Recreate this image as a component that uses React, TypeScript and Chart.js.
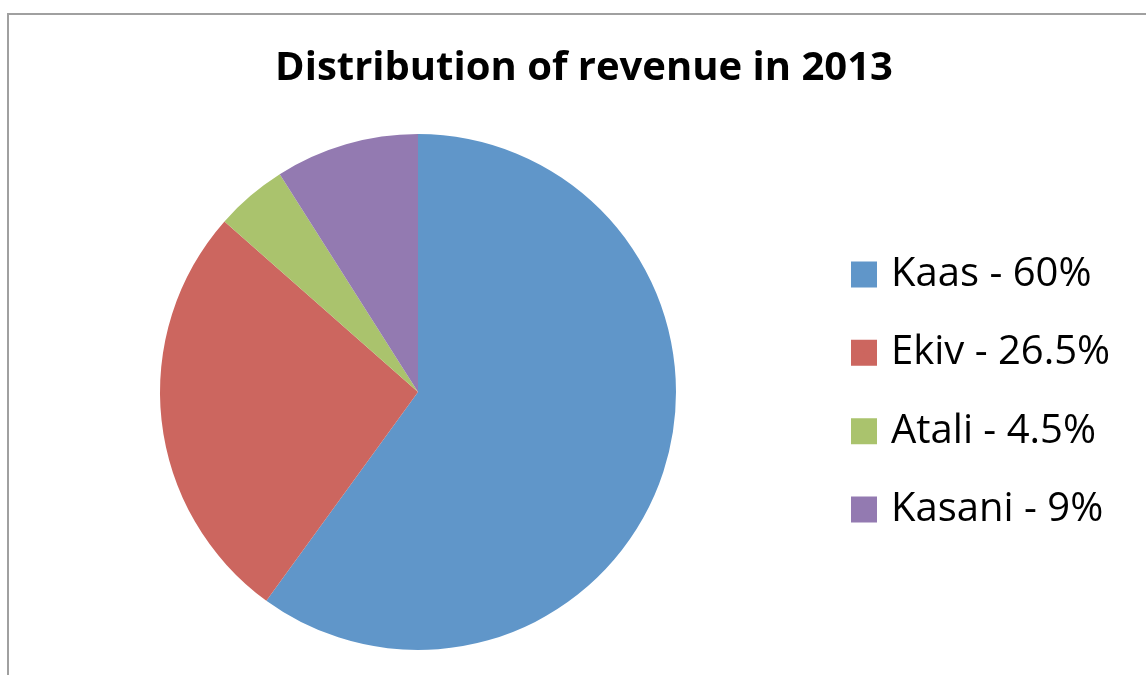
import React, { useEffect, useRef } from "react";
import { Chart, registerables, layouts } from "chart.js";

Chart.register(...registerables);

const TITLE = "Distribution of revenue in 2013";
const categories = ["Kaas", "Ekiv", "Atali", "Kasani"];
const shares = [60, 26.5, 4.5, 9];
const colors = ["#6096C9", "#CC665F", "#AAC36D", "#937AB1"];

const legendLabels = categories.map((c, i) => `${c} - ${shares[i]}%`);

// total width reserved on the right of the pie (legend + empty margin)
const RIGHT_BLOCK = 332;

const spacerPlugin = {
  id: "rightSpacer",
  beforeInit(chart: any) {
    const box: any = {
      position: "right",
      weight: 5000,
      fullSize: false,
      options: { display: true },
      left: 0,
      top: 0,
      right: 0,
      bottom: 0,
      width: 0,
      height: 0,
      isHorizontal: () => false,
      update(maxWidth: number, maxHeight: number) {
        const lw = chart.legend ? chart.legend.width : 0;
        this.width = Math.max(0, RIGHT_BLOCK - lw);
        this.height = maxHeight;
      },
      draw() {},
    };
    layouts.addBox(chart, box);
  },
};

export default function App() {
  const ref = useRef<HTMLCanvasElement | null>(null);

  useEffect(() => {
    if (!ref.current) return;
    const chart = new Chart(ref.current, {
      type: "pie",
      data: {
        labels: legendLabels,
        datasets: [
          {
            data: shares,
            backgroundColor: colors,
            borderWidth: 0,
          },
        ],
      },
      plugins: [spacerPlugin],
      options: {
        responsive: false,
        animation: false,
        devicePixelRatio: 1,
        layout: { padding: { left: 17.3, right: 9.3, top: 0, bottom: 25 } },
        plugins: {
          tooltip: { enabled: false },
          title: {
            display: true,
            text: TITLE,
            color: "#000",
            font: { family: "'Open Sans'", size: 40, weight: "bold", lineHeight: 1.2 },
            padding: { top: 44.8, bottom: 41.2 },
          },
          legend: {
            display: true,
            position: "right",
            align: "center",
            fullSize: false,
            maxWidth: 420,
            labels: {
              color: "#000",
              font: { family: "'Open Sans'", size: 40 },
              boxWidth: 14,
              boxHeight: 14,
              padding: 38.3,
              generateLabels: () =>
                legendLabels.map((t, i) => ({
                  text: t,
                  fillStyle: colors[i],
                  strokeStyle: colors[i],
                  lineWidth: 12,
                  lineJoin: "miter",
                  hidden: false,
                  index: i,
                  fontColor: "#000",
                })),
            },
          },
        },
      },
    });
    return () => chart.destroy();
  }, []);

  return (
    <div style={{ position: "fixed", left: 0, top: 0, width: 1146, height: 675, overflow: "hidden", background: "#fff" }}>
      <div
        style={{
          position: "absolute",
          left: 7,
          top: 13,
          width: 1200,
          height: 700,
          borderLeft: "2px solid #a0a0a0",
          borderTop: "2px solid #a0a0a0",
        }}
      />
      <canvas ref={ref} width={1160} height={675} style={{ position: "absolute", left: 0, top: 0, width: 1160, height: 675 }} />
    </div>
  );
}
